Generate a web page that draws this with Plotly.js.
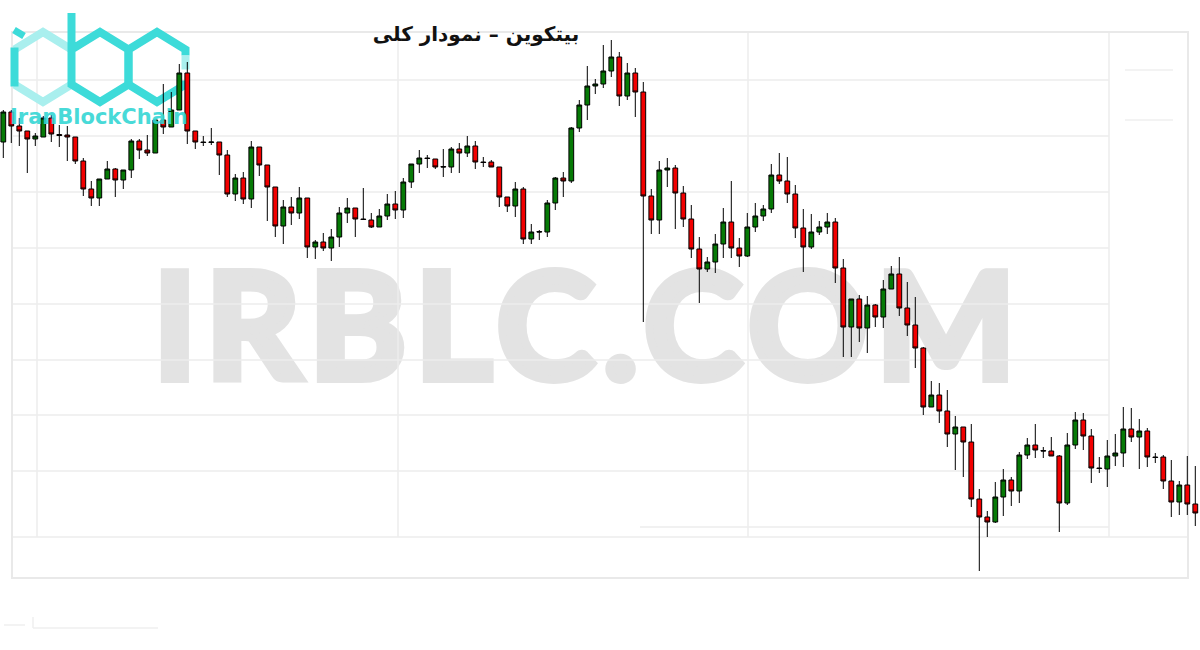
<!DOCTYPE html>
<html>
<head>
<meta charset="utf-8">
<script src="https://cdn.plot.ly/plotly-3.0.1.min.js"></script>
<style>
  html, body { margin:0; padding:0; background:#ffffff; width:1200px; height:650px; overflow:hidden; }
  #wm { position:absolute; left:153px; top:248px; font-family:"Lato", sans-serif; font-weight:700;
        font-size:148px; line-height:148px; color:#e3e3e3; letter-spacing:8.5px; white-space:nowrap; z-index:0;
        -webkit-text-stroke:8px #e3e3e3; }
  #chart { position:absolute; left:0; top:0; width:1200px; height:650px; z-index:1; }
</style>
</head>
<body>
<div id="wm">IRBLC.COM</div>
<div id="chart"></div>
<script>
// ---- data (price units; no axis labels are shown) ----
const openV = [558,588,574,569,561,563,582,565.5,565,563,539,511,502,521,531,520,530,559,550,547,
  580,573,590,627,569,558,557.5,558,545,506,522,501,553,535,513,474,493,487,502,453,
  458,452,463,487,492,481,480,473,484,496,490,518,536,542,541,533.5,533,551,547,554,
  538,538,533,503,494,511,461,468.5,468,497,522,519,572,595,614,616,629,643,604,627,
  608,504,480,530,532,507,481,451,431,438,456,478,452,444,473,484,491,525,519,506,
  472,453,468,473,478,432,373,401,372,395,383,411,426,392,375,352,293,305,289,266,
  273,258,201,183,178,203,220,209,245,255,249.5,249,244,197,255,280,264,232,231,244,
  247,271,263,269,243,243,219,198,215,196];
const highV = [590,590,582,569,567,584,585,575,574,563,542,519,521,539,532,530,561,561,565,580,
  616,608,636,638,569,564,572,558,550,526,528,559,553,535,513,500,503,513,502,460,
  467,471,493,502,492,512,487,491,506,509,522,536,550,545,541,551,553,557,564,559,
  543,540,533,503,518,513,476,470,500,523,528,573,600,634,621,655,660,648,637,632,
  618,511,539,542,535,514,495,463,443,466,492,519,462,487,497,495,536,547,543,515,
  491,486,479,487,482,441,401,405,404,396,420,434,443,418,403,353,319,317,310,284,
  273,276,211,189,218,231,223,248,262,276,253,263,245,267,288,287,271,243,260,266,
  293,292,281,272,247,245,240,219,244,234];
const lowV = [542,557,554,527,554,563,558,553,539,536,504,494,494,521,503,511,522,541,544,547,
  566,573,590,556,551,554,555,525,503,499,496,492,524,479,463,456,475,481,442,441,
  449,439,453,477,463,480,472,473,480,481,482,512,527,532,531,523,527,527,543,531,
  533,533,493,488,483,456,456,460,463,490,503,517,568,580,606,612,623,594,600,583,
  378,466,466,513,471,473,442,397,428,427,442,442,433,443,468,479,487,516,497,462,
  428,451,465,466,417,343,343,358,347,373,372,411,384,364,332,285,293,277,253,230,
  223,193,129,163,177,184,194,197,241,242,242,244,168,195,251,250,217,227,213,234,
  233,258,231,233,237,211,183,185,185,174];
const closeV = [588,574,569,561,564,582,566,564.5,563,539,511,502,521,531,520,530,559,550,547,580,
  573,590,627,569,558,557.5,558,545,506,522,501,553,535,513,474,493,487,502,453,458,
  452,463,487,492,481,480.5,473,484,496,490,518,536,542,541.5,533,533,551,547,554,538,
  537.5,533,503,494,511,461,468,468,497,522,519,572,595,614,616,629,643,604,627,608,
  504,480,530,532,507,481,451,431,438,456,478,452,444,473,484,491,525,519,506,472,
  453,468,473,478,432,373,401,372,395,383,411,426,392,375,352,293,305,289,266,273,
  258,201,183,178,203,220,209,245,255,250,249,244,197,255,280,264,232,231.5,244,247,
  271,263,269,243,242.5,219,198,215,196,187];
const candleIndex = openV.map((_, i) => i);

const titleText = "بیتکوین – نمودار کلی";
const logoText = "IranBlockChain";

// ---- helpers: pixel -> paper (plot area = whole 1200x650 page) ----
const W = 1200, H = 650;
const px = x => x / W, py = y => 1 - y / H;
function line(x0, y0, x1, y1, color, width, layer) {
  return {type:'line', xref:'paper', yref:'paper', x0:px(x0), y0:py(y0), x1:px(x1), y1:py(y1),
          line:{color:color, width:width}, layer:layer || 'below'};
}
function pathPx(pts) {
  return pts.map((p, k) => (k ? 'L' : 'M') + px(p[0]).toFixed(5) + ',' + py(p[1]).toFixed(5)).join(' ');
}
function polyPx(pts, color, width, layer) {
  return {type:'path', xref:'paper', yref:'paper', path:pathPx(pts),
          line:{color:color, width:width}, layer:layer || 'below'};
}

const shapes = [];
const gridC = '#ececec';
// faint frame and grid left over in the picture
[80,136,192,248,304,360,415,471].forEach(y => shapes.push(line(12, y, 1109, y, gridC, 1.5)));
shapes.push(line(640, 527, 1109, 527, gridC, 1.5));
[37,398,748,1109].forEach(x => shapes.push(line(x, 32, x, 537, gridC, 1.5)));
shapes.push(line(12, 537, 1188, 537, gridC, 1.5));
shapes.push({type:'rect', xref:'paper', yref:'paper', x0:px(12), y0:py(32), x1:px(1188), y1:py(578),
             line:{color:'#e9e9e9', width:2}, layer:'below'});
shapes.push(line(33, 628, 158, 628, '#efefef', 1.5));
shapes.push(line(33, 617, 33, 628, '#efefef', 1.5));
shapes.push(line(4, 625, 25, 625, '#efefef', 1.5));
[70,120].forEach(y => shapes.push(line(1125, y, 1173, y, '#efefef', 1.5)));

// logo: honeycomb "ibc"
const main = '#3ddbd9', light = '#a9efee';
function hexPts(cx, cy) {
  const hw = 28.5, r = 35, h = 17.5;
  return {t:[cx, cy - r], ur:[cx + hw, cy - h], lr:[cx + hw, cy + h], b:[cx, cy + r],
          ll:[cx - hw, cy + h], ul:[cx - hw, cy - h]};
}
const hi = hexPts(43, 67), hb = hexPts(100, 67), hc = hexPts(157, 67);
const LW = 8;
// i
shapes.push(polyPx([hi.ul, hi.t, hi.ur], light, LW));
shapes.push(polyPx([hi.ll, hi.b, hi.lr], light, LW));
shapes.push(polyPx([[hi.ul[0], hi.ul[1] - 2], [hi.ll[0], hi.ll[1] + 2]], main, LW));
shapes.push(polyPx([[14, 30], [24, 36]], main, 7));
// b
shapes.push(polyPx([[hb.ul[0], 13], hb.ul, hb.ll, hb.b, hb.lr, hb.ur, hb.t, hb.ul], main, LW));
// c
shapes.push(polyPx([[hc.ur[0], hc.ur[1] + 6], hc.ur, hc.t, hc.ul, hc.ll, hc.b, hc.lr, [hc.lr[0], hc.lr[1] - 4]], main, LW));
shapes.push(polyPx([[hc.ur[0], hc.ur[1] + 6], [hc.ur[0], hc.ur[1] + 20]], light, LW));

const trace = {
  type:'candlestick', x:candleIndex, open:openV, high:highV, low:lowV, close:closeV,
  increasing:{line:{color:'#000000', width:1}, fillcolor:'#067a06'},
  decreasing:{line:{color:'#000000', width:1}, fillcolor:'#f20000'},
  whiskerwidth:0, hoverinfo:'skip', showlegend:false
};

const layout = {
  width:W, height:H, autosize:false,
  margin:{l:0, r:0, t:0, b:0, pad:0},
  paper_bgcolor:'rgba(0,0,0,0)', plot_bgcolor:'rgba(0,0,0,0)',
  boxgap:0.15,
  showlegend:false,
  title:{text:'<b>' + titleText + '</b>', x:476 / W, y:py(34), xanchor:'center', yanchor:'middle',
         xref:'paper', yref:'paper',
         font:{family:'DejaVu Sans, sans-serif', size:20, color:'#111111'}},
  xaxis:{range:[-0.4125, 149.5875], showgrid:false, zeroline:false, showticklabels:false, ticks:'',
         showline:false, rangeslider:{visible:false}, fixedrange:true},
  yaxis:{range:[50, 700], showgrid:false, zeroline:false, showticklabels:false, ticks:'',
         showline:false, fixedrange:true},
  shapes:shapes,
  annotations:[
    {text:'<b>' + logoText + '</b>', xref:'paper', yref:'paper', x:px(99), y:py(117),
     xanchor:'center', yanchor:'middle', showarrow:false, opacity:0.9,
     font:{family:'DejaVu Sans, sans-serif', size:21, color:'#35d6d4'}}
  ]
};

Plotly.newPlot('chart', [trace], layout, {staticPlot:true, displayModeBar:false});
</script>
</body>
</html>
